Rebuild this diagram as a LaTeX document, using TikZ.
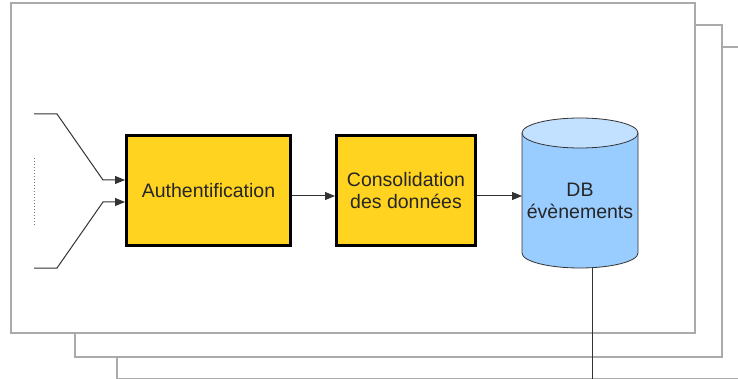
\documentclass[tikz,border=0pt]{standalone}
\usepackage{fontspec}
\setmainfont{Liberation Sans}
\usetikzlibrary{arrows.meta}
\definecolor{boxyellow}{HTML}{FFD320}
\definecolor{dbblue}{HTML}{99CCFF}
\definecolor{dbtop}{HTML}{C2E0FF}
\definecolor{framegray}{HTML}{AAAAAA}
\definecolor{linegray}{HTML}{333333}
\begin{document}
\begin{tikzpicture}[x=1pt,y=-1pt,
  frame/.style={draw=framegray,line width=1.5pt,fill=white},
  procbox/.style={draw=black,line width=3pt,fill=boxyellow,inner sep=0pt,
    font=\fontsize{19.5}{22}\selectfont,align=center,text=black!85},
  conn/.style={draw=linegray,line width=1pt,-{Triangle[length=10pt,width=8pt]}},
  plain/.style={draw=linegray,line width=1pt}]
\useasboundingbox (0,0) rectangle (738,379);
% stacked frames
\path[frame] (117,47) rectangle (760,378.5);
\path[frame] (75,25) rectangle (722,357);
\path[frame] (11,3) rectangle (695,333);
% process boxes
\node[procbox,minimum width=164pt,minimum height=110pt] (auth) at (208.5,190.5) {Authentification};
\node[procbox,minimum width=139pt,minimum height=110pt] (cons) at (406,190.5) {Consolidation\\des donn\'ees};
% database cylinder
\path[fill=dbblue,draw=linegray,line width=0.8pt] (522,133) -- (522,253) arc[start angle=180,end angle=0,x radius=58,y radius=15] -- (638,133);
\path[fill=dbtop,draw=linegray,line width=0.8pt] (580,133) ellipse[x radius=58,y radius=15];
\node[inner sep=0pt,minimum width=116pt,minimum height=120pt,align=center,
  font=\fontsize{19.5}{22}\selectfont,text=black!85] (db) at (580,201) {DB\\\'ev\`enements};
% inputs
\coordinate (in1) at (34,114);
\coordinate (in2) at (34,268);
\coordinate (arow) at (0,196);
\draw[conn] (in1) -- (57,114) -- (103,180) -- (auth.west |- 0,180);
\draw[conn] (in2) -- (57,268) -- (103,202) -- (auth.west |- 0,202);
\coordinate (dot1) at (34,158);
\coordinate (dot2) at (34,225);
\draw[framegray!70!black,line width=1pt,dotted] (dot1) -- (dot2);
% chain arrows
\draw[conn] (auth.east |- arow) -- (cons.west |- arow);
\draw[conn] (cons.east |- arow) -- (522,196);
% output line
\coordinate (dbbot) at (592,267.5);
\coordinate (outend) at (592,379);
\draw[plain] (dbbot) -- (outend);
\end{tikzpicture}
\end{document}
